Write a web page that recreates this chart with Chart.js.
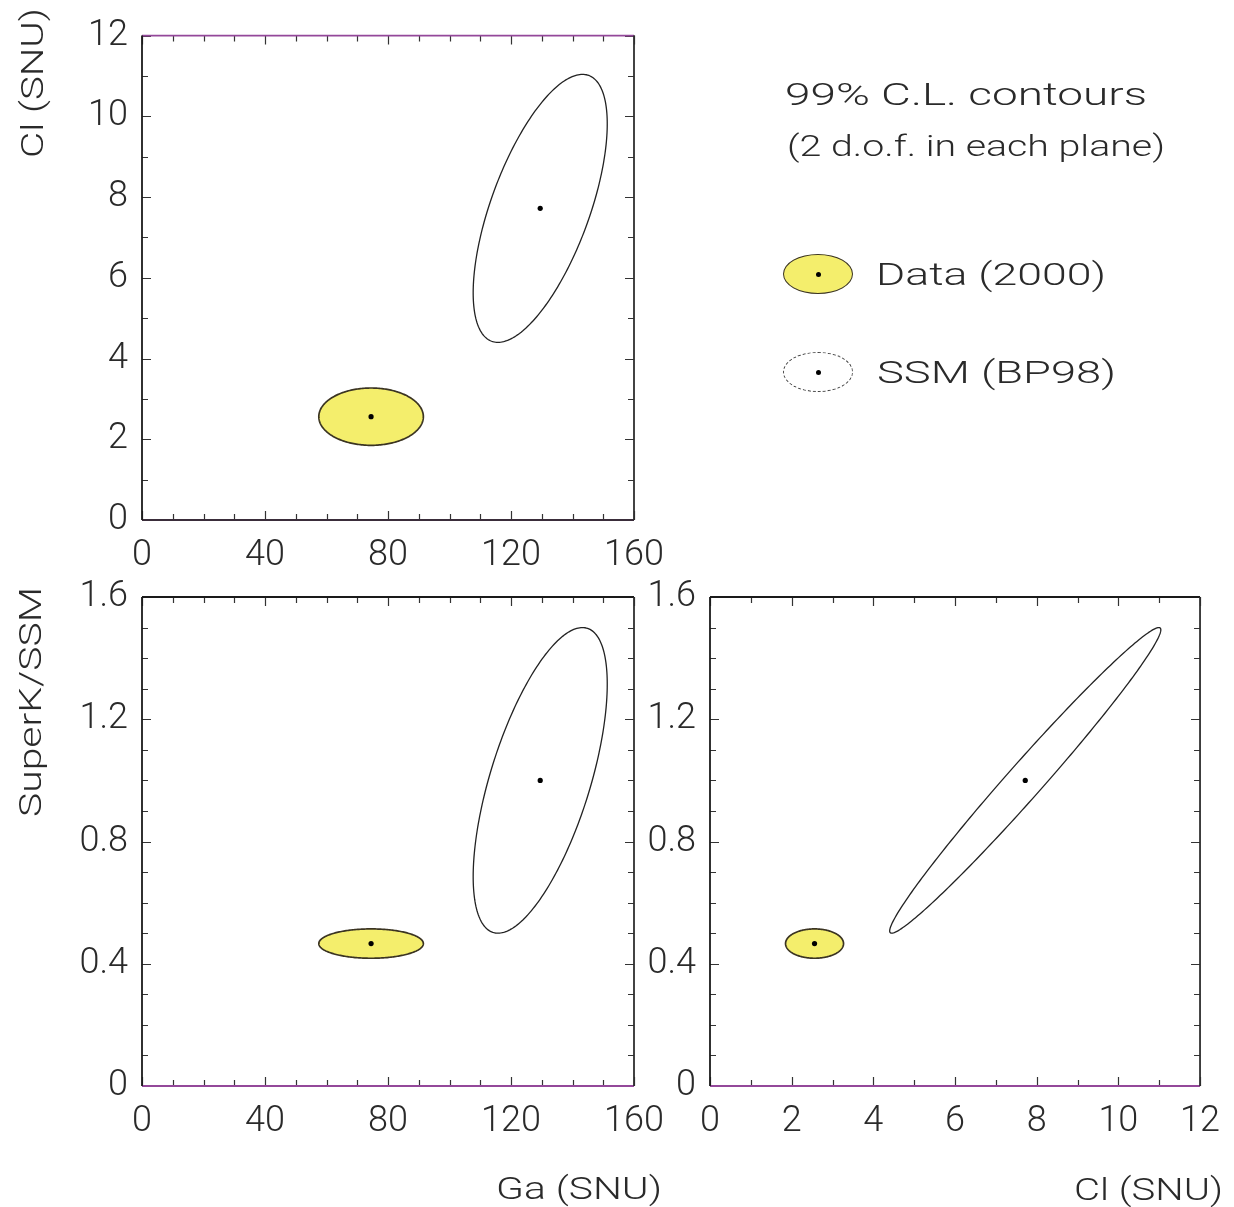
<!DOCTYPE html>
<html>
<head>
<meta charset="utf-8">
<title>99% C.L. contours</title>
<script src="https://cdn.jsdelivr.net/npm/chart.js@4.4.1/dist/chart.umd.min.js"></script>
<style>
  html, body { margin:0; padding:0; background:#ffffff; }
  #stage { position:relative; width:1234px; height:1207px; overflow:hidden; background:#fff; }
  #stage canvas { position:absolute; left:0; top:0; }
  .txt { position:absolute; white-space:nowrap; line-height:1; font-family: Roboto, 'Liberation Sans', sans-serif; font-weight:300; color:#2a2a2a; transform-origin:0 0; z-index:5; }
  .icon { position:absolute; border-radius:50%; box-sizing:border-box; z-index:5; }
  .icon .dot { position:absolute; left:50%; top:50%; width:5px; height:5px; margin:-2.5px 0 0 -2.5px; border-radius:50%; background:#000; }
</style>
</head>
<body>
<div id="stage">
  <canvas id="panelGaCl" width="1234" height="1207"></canvas>
  <canvas id="panelGaSK" width="1234" height="1207"></canvas>
  <canvas id="panelClSK" width="1234" height="1207"></canvas>
</div>
<script>
// ---------------- values ----------------
const variableNames = ['Ga (SNU)', 'Cl (SNU)', 'SuperK/SSM'];
const seriesNames = ['Data (2000)', 'SSM (BP98)'];
const legendTitle = ['99% C.L. contours', '(2 d.o.f. in each plane)'];

// centres and half-extents of the 99% C.L. contours, order: Ga, Cl, SuperK/SSM
const dataCenter = [74.5, 2.56, 0.466];
const dataHalfWidth = [17.0, 0.71, 0.048];
const dataCorrelation = [0, 0, 0];          // Ga-Cl, Ga-SK, Cl-SK
const ssmCenter = [129.5, 7.72, 1.0];
const ssmHalfWidth = [21.8, 3.32, 0.50];
const ssmCorrelation = [0.63, 0.63, 0.985]; // Ga-Cl, Ga-SK, Cl-SK

// axis ranges and ticks
const gaRange = [0, 160];
const clRange = [0, 12];
const skRange = [0, 1.6];
const gaTickLabels = [0, 40, 80, 120, 160];
const gaMinorTicks = [0, 10, 20, 30, 40, 50, 60, 70, 80, 90, 100, 110, 120, 130, 140, 150, 160];
const clTickLabels = [0, 2, 4, 6, 8, 10, 12];
const clMinorTicks = [0, 1, 2, 3, 4, 5, 6, 7, 8, 9, 10, 11, 12];
const skTickLabels = [0, 0.4, 0.8, 1.2, 1.6];
const skMinorTicks = [0, 0.1, 0.2, 0.3, 0.4, 0.5, 0.6, 0.7, 0.8, 0.9, 1.0, 1.1, 1.2, 1.3, 1.4, 1.5, 1.6];

// ---------------- layout ----------------
const rangeFor = [gaRange, clRange, skRange];
const tickLabelsFor = [gaTickLabels, clTickLabels, skTickLabels];
const minorTicksFor = [gaMinorTicks, clMinorTicks, skMinorTicks];
function pairIndex(i, j) { const a = Math.min(i, j), b = Math.max(i, j); return a === 0 ? (b === 1 ? 0 : 1) : 2; }

const PAGE_W = 1234, PAGE_H = 1207;
const Y_AXIS_W = 100, X_AXIS_H = 70;
const tickFont = { family: "Roboto, 'Liberation Sans', sans-serif", size: 36, weight: '300' };
const tickColor = '#2a2a2a';
const purple = '#94489a';

const panels = [
  { canvas: 'panelGaCl', xVar: 0, yVar: 1, area: { left: 142, top: 30, right: 634, bottom: 520 },
    borders: { top: purple, bottom: '#3a2d3a', left: '#1a1a1a', right: '#2e2e2e' } },
  { canvas: 'panelGaSK', xVar: 0, yVar: 2, area: { left: 142, top: 597, right: 634, bottom: 1086 },
    borders: { top: '#1a1a1a', bottom: purple, left: '#1a1a1a', right: '#2e2e2e' } },
  { canvas: 'panelClSK', xVar: 1, yVar: 2, area: { left: 710, top: 597, right: 1203, bottom: 1086 },
    borders: { top: '#1a1a1a', bottom: purple, left: '#1a1a1a', right: '#2e2e2e' } }
];

function contourPlugin(list) {
  return {
    id: 'contours',
    beforeDatasetsDraw(chart) {
      const { ctx, scales: { x, y } } = chart;
      const N = 240;
      ctx.save();
      list.forEach(c => {
        const k = Math.sqrt(1 - c.r * c.r);
        ctx.beginPath();
        for (let i = 0; i <= N; i++) {
          const t = 2 * Math.PI * i / N;
          const vx = c.cx + c.hx * Math.cos(t);
          const vy = c.cy + c.hy * (c.r * Math.cos(t) + k * Math.sin(t));
          const px = x.getPixelForValue(vx), py = y.getPixelForValue(vy);
          if (i === 0) ctx.moveTo(px, py); else ctx.lineTo(px, py);
        }
        ctx.closePath();
        if (c.fill) { ctx.fillStyle = c.fill; ctx.fill(); }
        ctx.strokeStyle = c.stroke; ctx.lineWidth = c.lw;
        ctx.stroke();
      });
      ctx.restore();
    }
  };
}

function framePlugin(p) {
  return {
    id: 'frame',
    afterDatasetsDraw(chart) {
      const { ctx, chartArea: a, scales: { x, y } } = chart;
      const xMajor = tickLabelsFor[p.xVar], yMajor = tickLabelsFor[p.yVar];
      ctx.save();
      ctx.lineWidth = 1.2;
      ctx.strokeStyle = '#333';
      const isMajor = (arr, v) => arr.some(m => Math.abs(m - v) < 1e-9);
      minorTicksFor[p.xVar].forEach(v => {
        const len = isMajor(xMajor, v) ? 9 : 6;
        const px = Math.round(x.getPixelForValue(v)) + 0.5;
        ctx.beginPath();
        ctx.moveTo(px, a.bottom); ctx.lineTo(px, a.bottom - len);
        ctx.moveTo(px, a.top); ctx.lineTo(px, a.top + len);
        ctx.stroke();
      });
      minorTicksFor[p.yVar].forEach(v => {
        const len = isMajor(yMajor, v) ? 9 : 6;
        const py = Math.round(y.getPixelForValue(v)) + 0.5;
        ctx.beginPath();
        ctx.moveTo(a.left, py); ctx.lineTo(a.left + len, py);
        ctx.moveTo(a.right, py); ctx.lineTo(a.right - len, py);
        ctx.stroke();
      });
      ctx.lineWidth = 1.8;
      const side = (x1, y1, x2, y2, col) => { ctx.strokeStyle = col; ctx.beginPath(); ctx.moveTo(x1, y1); ctx.lineTo(x2, y2); ctx.stroke(); };
      side(a.left, a.top, a.right, a.top, p.borders.top);
      side(a.left, a.bottom, a.right, a.bottom, p.borders.bottom);
      side(a.left, a.top, a.left, a.bottom, p.borders.left);
      side(a.right, a.top, a.right, a.bottom, p.borders.right);
      ctx.restore();
    }
  };
}

panels.forEach(p => {
  const a = p.area, xi = p.xVar, yi = p.yVar;
  const contours = [
    { cx: ssmCenter[xi], cy: ssmCenter[yi], hx: ssmHalfWidth[xi], hy: ssmHalfWidth[yi],
      r: ssmCorrelation[pairIndex(xi, yi)], fill: null, stroke: '#222', lw: 1.3 },
    { cx: dataCenter[xi], cy: dataCenter[yi], hx: dataHalfWidth[xi], hy: dataHalfWidth[yi],
      r: dataCorrelation[pairIndex(xi, yi)], fill: '#f4ee6c', stroke: '#3b3422', lw: 1.7 }
  ];
  const axisCommon = (v) => ({
    type: 'linear', min: rangeFor[v][0], max: rangeFor[v][1],
    afterBuildTicks: s => { s.ticks = tickLabelsFor[v].map(t => ({ value: t })); },
    grid: { display: false, drawTicks: false }, border: { display: false }
  });
  new Chart(document.getElementById(p.canvas), {
    type: 'scatter',
    data: {
      datasets: [
        { label: seriesNames[0], data: [{ x: dataCenter[xi], y: dataCenter[yi] }],
          pointRadius: 2.6, pointBackgroundColor: '#000', pointBorderWidth: 0 },
        { label: seriesNames[1], data: [{ x: ssmCenter[xi], y: ssmCenter[yi] }],
          pointRadius: 2.6, pointBackgroundColor: '#000', pointBorderWidth: 0 }
      ]
    },
    options: {
      responsive: false, animation: false, events: [],
      layout: { padding: { left: a.left - Y_AXIS_W, top: a.top, right: PAGE_W - a.right, bottom: PAGE_H - a.bottom - X_AXIS_H } },
      plugins: { legend: { display: false }, tooltip: { enabled: false } },
      scales: {
        x: Object.assign(axisCommon(xi), {
          position: 'bottom',
          afterFit: s => { s.height = X_AXIS_H; },
          ticks: { font: tickFont, color: tickColor, padding: 14, maxRotation: 0, autoSkip: false, callback: v => String(v) }
        }),
        y: Object.assign(axisCommon(yi), {
          position: 'left',
          afterFit: s => { s.width = Y_AXIS_W; },
          ticks: { font: tickFont, color: tickColor, padding: 14, autoSkip: false, callback: v => String(v) }
        })
      }
    },
    plugins: [contourPlugin(contours), framePlugin(p)]
  });
});

// ---------------- text (axis titles and legend) ----------------
const stage = document.getElementById('stage');
function placeText(str, o) {
  const el = document.createElement('div');
  el.className = 'txt';
  el.textContent = str;
  el.style.fontSize = o.fs + 'px';
  stage.appendChild(el);
  const w = el.getBoundingClientRect().width;
  const s = o.width / w;
  const capOff = 0.486 * o.fs;
  if (o.vertical) {
    el.style.left = (o.cx - capOff) + 'px';
    el.style.top = o.bottom + 'px';
    el.style.transform = 'rotate(-90deg) scaleX(' + s + ')';
  } else {
    const left = (o.right !== undefined) ? o.right - o.width : o.left;
    el.style.left = left + 'px';
    el.style.top = (o.cy - capOff) + 'px';
    el.style.transform = 'scaleX(' + s + ')';
  }
}
function placeIcon(o) {
  const el = document.createElement('div');
  el.className = 'icon';
  el.style.left = (o.cx - o.w / 2) + 'px';
  el.style.top = (o.cy - o.h / 2) + 'px';
  el.style.width = o.w + 'px';
  el.style.height = o.h + 'px';
  el.style.background = o.fill;
  el.style.border = o.border;
  const d = document.createElement('div'); d.className = 'dot'; el.appendChild(d);
  stage.appendChild(el);
}

placeText(variableNames[1], { vertical: true, cx: 32, bottom: 158, width: 150, fs: 32 });
placeText(variableNames[2], { vertical: true, cx: 30, bottom: 817, width: 230, fs: 32 });
placeText(variableNames[0], { right: 662, cy: 1188, width: 166, fs: 32 });
placeText(variableNames[1], { right: 1223, cy: 1189, width: 149, fs: 32 });

placeText(legendTitle[0], { left: 785, cy: 93.5, width: 362, fs: 32 });
placeText(legendTitle[1], { left: 787, cy: 146, width: 378, fs: 30 });
placeIcon({ cx: 818, cy: 274, w: 70, h: 40, fill: '#f4ee6c', border: '1.6px solid #3b3422' });
placeText(seriesNames[0], { left: 876, cy: 273.5, width: 230, fs: 32 });
placeIcon({ cx: 818, cy: 372, w: 70, h: 40, fill: '#ffffff', border: '1.3px dashed #444' });
placeText(seriesNames[1], { left: 877, cy: 371.5, width: 239, fs: 32 });
</script>
</body>
</html>
